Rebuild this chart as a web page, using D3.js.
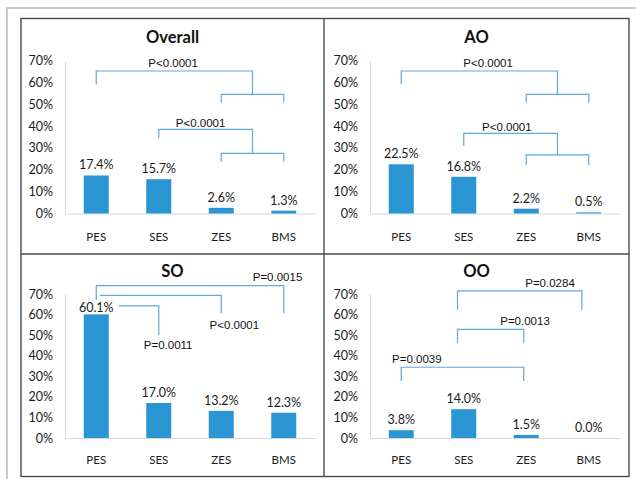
<!DOCTYPE html>
<html>
<head>
<meta charset="utf-8">
<script src="https://cdn.jsdelivr.net/npm/d3@7"></script>
<style>
  body { margin: 0; background: #fff; }
  svg { display: block; }
</style>
</head>
<body>
<div id="chart"></div>
<script>
// Categories and tick labels
const categories = ["PES", "SES", "ZES", "BMS"];
const yTicks = [0, 10, 20, 30, 40, 50, 60, 70];

// Bar values (%) per panel
const overallValues = [17.4, 15.7, 2.6, 1.3];
const aoValues = [22.5, 16.8, 2.2, 0.5];
const soValues = [60.1, 17.0, 13.2, 12.3];
const ooValues = [3.8, 14.0, 1.5, 0.0];

// Significance brackets: polylines of [category index, value %]
const overallBrackets = [
    [[0, 59], [0, 65.2], [2.5, 65.2], [2.5, 54.5]],
    [[2, 50.7], [2, 54.5], [3, 54.5], [3, 50.7]],
    [[1, 34.4], [1, 38.5], [2.5, 38.5], [2.5, 27.5]],
    [[2, 23.7], [2, 27.5], [3, 27.5], [3, 23.7]]
];
const overallPLabels = [
    { text: "P<0.0001", i: 1.23, v: 68.8 },
    { text: "P<0.0001", i: 1.67, v: 41.4 }
];
const aoBrackets = [
    [[0, 59.1], [0, 65.2], [2.5, 65.2], [2.5, 54.5]],
    [[2, 50.7], [2, 54.5], [3, 54.5], [3, 50.7]],
    [[1, 30.9], [1, 36.7], [2.5, 36.7], [2.5, 26.8]],
    [[2, 22.2], [2, 26.8], [3, 26.8], [3, 22.2]]
];
const aoPLabels = [
    { text: "P<0.0001", i: 1.39, v: 68.8 },
    { text: "P<0.0001", i: 1.69, v: 39.7 }
];
const soBrackets = [
    [[0, 67.1], [0, 74.1], [3, 74.1], [3, 60.5]],
    [[0.06, 69.3], [2, 69.3], [2, 60.5]],
    [[0.36, 64.2], [1, 64.2], [1, 50]]
];
const soPLabels = [
    { text: "P=0.0015", i: 2.9, v: 78.3 },
    { text: "P<0.0001", i: 2.21, v: 54.7 },
    { text: "P=0.0011", i: 1.15, v: 45.2 }
];
const ooBrackets = [
    [[0.9, 62.2], [0.9, 71.5], [2.89, 71.5], [2.89, 62.2]],
    [[0.9, 46], [0.9, 52.8], [1.96, 52.8], [1.96, 46]],
    [[0, 27.7], [0, 34.4], [1.96, 34.4], [1.96, 27.7]]
];
const ooPLabels = [
    { text: "P=0.0284", i: 2.38, v: 75.2 },
    { text: "P=0.0013", i: 1.98, v: 57 },
    { text: "P=0.0039", i: 0.25, v: 38.4 }
];

const panelTitles = ["Overall", "AO", "SO", "OO"];
const panelValues = [overallValues, aoValues, soValues, ooValues];
const panelBrackets = [overallBrackets, aoBrackets, soBrackets, ooBrackets];
const panelPLabels = [overallPLabels, aoPLabels, soPLabels, ooPLabels];

const width = 636, height = 479;
const barColor = "#2b95d3";
const bracketColor = "#62a8d8";
const font = "Lato, 'Open Sans', sans-serif";

const svg = d3.select("#chart").append("svg")
    .attr("width", width)
    .attr("height", height);

// outer light frame
svg.append("path")
    .attr("d", "M7,479 V8 H636")
    .attr("fill", "none")
    .attr("stroke", "#c9c9c9")
    .attr("stroke-width", 2);

// box and dividers
const box = { left: 21, right: 629, top: 18.5, mid: 254, bottom: 476.5, split: 324 };
svg.append("rect")
    .attr("x", box.left).attr("y", box.top)
    .attr("width", box.right - box.left).attr("height", box.bottom - box.top)
    .attr("fill", "none").attr("stroke", "#4a4a4a").attr("stroke-width", 1.4);
svg.append("line")
    .attr("x1", box.split).attr("x2", box.split).attr("y1", box.top).attr("y2", box.bottom)
    .attr("stroke", "#4a4a4a").attr("stroke-width", 1.4);
svg.append("line")
    .attr("x1", box.left).attr("x2", box.right).attr("y1", box.mid).attr("y2", box.mid)
    .attr("stroke", "#4a4a4a").attr("stroke-width", 1.4);

// layout of each panel
const rows = [
    { base: 213.5, top: 60.5, titleY: 37, labelY: 237 },
    { base: 438, top: 294, titleY: 271, labelY: 460 }
];
const cols = [
    { x0: box.left, x1: box.split, plotL: 65, plotR: 315 },
    { x0: box.split, x1: box.right, plotL: 370, plotR: 620 }
];

function drawPanel(p) {
    const row = rows[Math.floor(p / 2)];
    const col = cols[p % 2];
    const g = svg.append("g");

    const x = d3.scaleBand()
        .domain(categories)
        .range([col.plotL, col.plotR])
        .paddingInner(0.6)
        .paddingOuter(0.3);
    const y = d3.scaleLinear().domain([0, 70]).range([row.base, row.top]);
    const xi = i => x(categories[0]) + x.bandwidth() / 2 + i * x.step();

    // title
    g.append("text")
        .attr("x", (col.x0 + col.x1) / 2)
        .attr("y", row.titleY)
        .attr("dy", "0.35em")
        .attr("text-anchor", "middle")
        .attr("font-family", font)
        .attr("font-weight", "bold")
        .attr("font-size", 16.5)
        .attr("fill", "#111")
        .text(panelTitles[p]);

    // y axis (labels + light line)
    const yAxis = g.append("g")
        .attr("transform", `translate(${col.plotL},0)`)
        .call(d3.axisLeft(y).tickValues(yTicks).tickFormat(d => d + "%").tickSize(0).tickPadding(12));
    yAxis.select(".domain").attr("stroke", "#d9d9d9");
    yAxis.selectAll("text")
        .attr("font-family", font)
        .attr("font-size", 12.5)
        .attr("fill", "#1a1a1a");

    // x axis baseline and labels
    const xAxis = g.append("g")
        .attr("transform", `translate(0,${row.base})`)
        .call(d3.axisBottom(x).tickSize(0).tickPadding(0));
    xAxis.select(".domain").attr("stroke", "#d9d9d9");
    xAxis.selectAll("text")
        .attr("y", row.labelY - row.base)
        .attr("dy", "0.35em")
        .attr("font-family", font)
        .attr("font-size", 11.5)
        .attr("fill", "#1a1a1a");

    const vals = panelValues[p];

    // bars
    g.selectAll("rect.bar")
        .data(vals)
        .join("rect")
        .attr("class", "bar")
        .attr("x", (d, i) => x(categories[i]))
        .attr("y", d => y(d))
        .attr("width", x.bandwidth())
        .attr("height", d => y(0) - y(d))
        .attr("fill", barColor);

    // value labels (tall bars tuck the label just above the bar top)
    g.selectAll("text.val")
        .data(vals)
        .join("text")
        .attr("class", "val")
        .attr("x", (d, i) => x(categories[i]) + x.bandwidth() / 2)
        .attr("y", d => y(d) - (d > 50 ? 2 : 6))
        .attr("text-anchor", "middle")
        .attr("font-family", font)
        .attr("font-size", 12.5)
        .attr("fill", "#1a1a1a")
        .text(d => d.toFixed(1) + "%");

    // brackets
    const line = d3.line().x(d => xi(d[0])).y(d => y(d[1]));
    g.selectAll("path.bracket")
        .data(panelBrackets[p])
        .join("path")
        .attr("class", "bracket")
        .attr("d", line)
        .attr("fill", "none")
        .attr("stroke", bracketColor)
        .attr("stroke-width", 1.2);

    g.selectAll("text.pval")
        .data(panelPLabels[p])
        .join("text")
        .attr("class", "pval")
        .attr("x", d => xi(d.i))
        .attr("y", d => y(d.v))
        .attr("dy", "0.35em")
        .attr("text-anchor", "middle")
        .attr("font-family", "'Liberation Sans', Arial, sans-serif")
        .attr("font-size", 11.5)
        .attr("fill", "#111")
        .text(d => d.text);
}

for (let p = 0; p < 4; p++) drawPanel(p);
</script>
</body>
</html>
